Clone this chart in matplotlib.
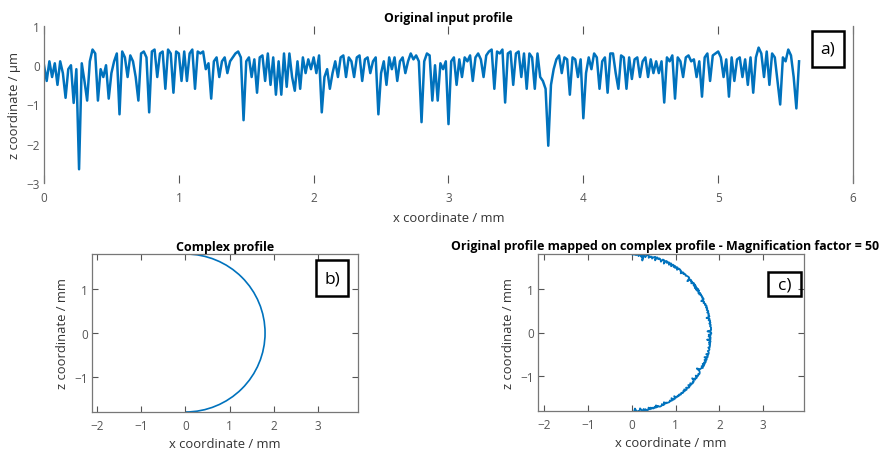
import numpy as np
import matplotlib
matplotlib.use("Agg")
import matplotlib.pyplot as plt
from matplotlib.patches import Arc, Rectangle

plt.rcParams['font.family'] = ['Open Sans', 'DejaVu Sans']

# ---------------- data ----------------
# Original input profile, z in micrometres, sampled every 0.02 mm from 0 to 5.6 mm
profile_z = [
    0.0, -0.4, 0.1, -0.3, 0.05,
    -0.5, 0.1, -0.2, -0.83, -0.1,
    0.0, -0.96, -0.1, -2.65, 0.05,
    -0.4, -0.9, 0.1, 0.4, 0.3,
    -0.9, -0.1, -0.3, 0.0, -0.85,
    -0.2, 0.1, 0.3, -1.25, 0.35,
    0.2, -0.3, 0.25, 0.1, -0.3,
    -0.9, 0.3, 0.35, 0.2, -1.2,
    0.35, 0.4, -0.3, 0.3, 0.35,
    -0.6, 0.4, 0.3, -0.7, 0.35,
    0.3, -0.4, 0.35, -0.4, 0.3,
    0.4, -0.6, 0.35, 0.3, 0.35,
    -0.1, 0.05, -0.85, 0.1, 0.2,
    -0.3, 0.1, 0.2, -0.2, 0.1,
    0.2, 0.3, 0.35, 0.2, -1.4,
    0.1, 0.2, -0.3, 0.15, -0.7,
    0.2, 0.25, -0.4, 0.3, -0.5,
    0.2, -0.75, 0.1, -0.75, 0.3,
    -0.55, 0.3, -0.3, -0.65, 0.1,
    -0.6, 0.2, -0.2, 0.15, -0.1,
    0.2, -0.2, 0.25, -1.2, -0.3,
    -0.1, -0.6, -0.2, 0.1, -0.3,
    0.2, 0.25, -0.3, 0.2, 0.1,
    -0.3, 0.2, 0.25, -0.4, 0.15,
    0.2, -0.2, 0.1, 0.2, -1.25,
    -0.2, 0.1, -0.5, 0.2, -0.1,
    0.2, -0.4, 0.1, 0.2, -0.2,
    0.1, 0.3, 0.15, 0.25, 0.1,
    -1.45, 0.1, 0.3, 0.25, -0.9,
    0.0, -0.9, 0.05, -0.1, 0.1,
    -1.5, 0.1, 0.2, -0.5, 0.15,
    -0.3, 0.2, 0.1, 0.25, -0.4,
    0.2, 0.3, 0.15, -0.3, 0.25,
    0.35, 0.4, -0.6, 0.35, 0.3,
    0.4, -0.95, 0.3, 0.35, -0.5,
    0.3, 0.35, -0.3, 0.3, -0.6,
    0.3, 0.2, -0.6, 0.3, -0.3,
    -0.4, -0.6, -2.05, -0.5, -0.1,
    0.15, 0.25, -0.2, 0.2, 0.15,
    -0.75, 0.2, 0.15, -0.3, 0.15,
    -1.35, -0.2, 0.2, -0.1, 0.3,
    0.2, -0.6, 0.1, 0.2, -0.7,
    0.3, 0.3, -0.2, -0.6, 0.25,
    0.2, -0.6, 0.2, -0.35, 0.15,
    0.2, -0.3, 0.1, 0.2, -0.3,
    0.15, -0.2, 0.1, -0.2, 0.1,
    -0.95, 0.2, 0.1, 0.25, -0.85,
    0.2, 0.1, -0.3, 0.2, 0.25,
    0.1, 0.15, -0.3, 0.1, -0.8,
    0.2, 0.3, -0.4, 0.25, 0.3,
    0.35, 0.2, -0.3, 0.15, -0.8,
    0.2, -0.4, 0.15, 0.2, -0.3,
    0.15, -0.5, 0.2, -0.7, 0.2,
    0.45, 0.3, -0.3, 0.35, -0.5,
    0.3, 0.2, -0.4, -1.0, 0.2,
    0.1, 0.4, 0.25, -0.3, -1.1,
    0.1,
]
profile_length_mm = 5.6
complex_radius_mm = 1.8          # radius of the complex (circular) profile
magnification = 50

top_xticks = [0, 1, 2, 3, 4, 5, 6]
top_yticks = [-3, -2, -1, 0, 1]
bottom_xticks = [-2, -1, 0, 1, 2, 3]
bottom_yticks = [-1, 0, 1]

# ---------------- style ----------------
line_color = '#0072BD'
tick_color = '#555555'
label_color = '#333333'
W, H = 891, 452

profile_x = np.linspace(0, profile_length_mm, len(profile_z))
profile_z = np.asarray(profile_z)

fig = plt.figure(figsize=(W / 100, H / 100), dpi=100)


def px_axes(l, t, r, b):
    return fig.add_axes([l / W, 1 - b / H, (r - l) / W, (b - t) / H])


def style(ax, color=tick_color):
    ax.tick_params(direction='in', length=4, width=0.8, colors=color,
                   labelsize=8.5, top=True, right=True, pad=3)
    for s in ax.spines.values():
        s.set_color('#777777')
        s.set_linewidth(0.9)


def label_box(x0, y0, x1, y1, txt):
    fig.add_artist(Rectangle((x0 / W, 1 - y1 / H), (x1 - x0) / W, (y1 - y0) / H,
                             transform=fig.transFigure, fill=False,
                             edgecolor='black', linewidth=1.8))
    fig.text((x0 + x1) / 2 / W, 1 - (y0 + y1) / 2 / H, txt, ha='center',
             va='center', fontsize=12.5, color='black')


# ---- a) original input profile ----
ax1 = px_axes(44, 27, 853, 184)
ax1.plot(profile_x, profile_z, color=line_color, linewidth=1.8)
ax1.set_xlim(0, 6)
ax1.set_ylim(-3, 1)
ax1.set_xticks(top_xticks)
ax1.set_yticks(top_yticks)
style(ax1)
ax1.tick_params(axis='x', length=6, pad=6)
ax1.tick_params(axis='y', length=0)
ax1.spines['top'].set_visible(False)
ax1.spines['bottom'].set_visible(False)
ax1.set_title('Original input profile', fontsize=8.8, fontweight='bold', pad=3.5)
ax1.set_xlabel('x coordinate / mm', fontsize=9.4, color=label_color, labelpad=5)
ax1.set_ylabel('z coordinate / \u00b5m', fontsize=9.4, color=label_color, labelpad=4)
label_box(812, 32, 844, 68, 'a)')

# ---- b) complex profile ----
ax2 = px_axes(92, 255, 358, 413)
arc = Arc((0, 0), 2 * complex_radius_mm, 2 * complex_radius_mm, theta1=-90, theta2=90,
          color=line_color, linewidth=1.2)
ax2.add_patch(arc)
ax2.set_xlim(-2.11, 3.9)
ax2.set_ylim(-complex_radius_mm, complex_radius_mm)
ax2.set_xticks(bottom_xticks)
ax2.set_yticks(bottom_yticks)
style(ax2)
ax2.tick_params(axis='x', pad=5)
ax2.set_title('Complex profile', fontsize=9, fontweight='bold', pad=3)
ax2.set_xlabel('x coordinate / mm', fontsize=9.4, color=label_color, labelpad=4)
ax2.set_ylabel('z coordinate / mm', fontsize=9.4, color=label_color, labelpad=4)
label_box(316, 261, 348, 297, 'b)')

# ---- c) profile mapped on complex profile ----
ax3 = px_axes(538, 255, 804, 412)
phi = profile_x / complex_radius_mm                      # arc-length -> angle from top
r = complex_radius_mm + magnification * profile_z / 1000.0  # µm -> mm, magnified
ax3.plot(r * np.sin(phi), r * np.cos(phi), color=line_color, linewidth=1.3)
ax3.set_xlim(-2.14, 3.93)
ax3.set_ylim(-complex_radius_mm, complex_radius_mm)
ax3.set_xticks(bottom_xticks)
ax3.set_yticks(bottom_yticks)
style(ax3)
ax3.tick_params(axis='x', pad=5)
fig.text(665 / W, 1 - 250 / H,
         'Original profile mapped on complex profile - Magnification factor = 50',
         fontsize=8.9, fontweight='bold', ha='center', va='baseline')
ax3.set_xlabel('x coordinate / mm', fontsize=9.4, color=label_color, labelpad=4)
ax3.set_ylabel('z coordinate / mm', fontsize=9.4, color=label_color, labelpad=4)
label_box(768, 273, 801, 297, 'c)')

fig.savefig('out.png', dpi=100)
